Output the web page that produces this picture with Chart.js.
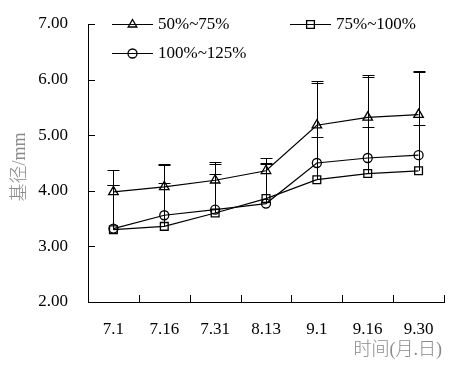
<!DOCTYPE html>
<html>
<head>
<meta charset="utf-8">
<script src="https://cdn.jsdelivr.net/npm/chart.js@4"></script>
<style>
html,body{margin:0;padding:0;background:#fff}
#wrap{width:463px;height:367px;position:relative}
</style>
</head>
<body>
<div id="wrap"><canvas id="c"></canvas></div>
<script>
// dates (month.day)
const labels = ['7.1','7.16','7.31','8.13','9.1','9.16','9.30'];
const seriesNames = ['50%~75%','75%~100%','100%~125%'];

// mean stem diameter, mm
const tri = [3.98, 4.07, 4.19, 4.36, 5.18, 5.32, 5.37];
const sq  = [3.30, 3.36, 3.60, 3.86, 4.20, 4.31, 4.36];
const cir = [3.32, 3.56, 3.66, 3.77, 4.50, 4.59, 4.64];

// upper end of each error bar
const triHi = [4.37, 4.49, 4.52, 4.59, 5.98, 6.09, 6.16];
const sqHi  = [4.10, 4.14, 4.30, 4.49, 4.97, 5.14, 5.19];
const cirHi = [4.10, 4.47, 4.48, 4.50, 5.93, 6.04, 6.13];

const yTicks = [2, 3, 4, 5, 6, 7];
const xTitle = '时间(月.日)';
const yTitle = '基径/mm';

const FONT = "'Liberation Serif', 'Times New Roman', serif";
const CJK = "'Liberation Serif', 'Noto Sans CJK SC', serif";

function ds(label, data, hi, style, r){
  return {
    label, data, hi,
    borderColor:'#000', borderWidth:1.2,
    pointStyle:style, pointRadius:r, pointHoverRadius:r,
    pointBorderColor:'#000', pointBorderWidth:1.3,
    pointBackgroundColor:'rgba(0,0,0,0)',
    tension:0, fill:false
  };
}

function marker(ctx, style, x, y, r){
  ctx.beginPath();
  if(style==='triangle'){
    ctx.moveTo(x, y - r);
    ctx.lineTo(x + r*Math.sin(2*Math.PI/3), y - r*Math.cos(2*Math.PI/3));
    ctx.lineTo(x + r*Math.sin(4*Math.PI/3), y - r*Math.cos(4*Math.PI/3));
    ctx.closePath();
  } else if(style==='rect'){
    const s = Math.SQRT1_2*r;
    ctx.rect(x - s, y - s, 2*s, 2*s);
  } else {
    ctx.arc(x, y, r, 0, Math.PI*2);
  }
  ctx.stroke();
}

const errorBars = {
  id:'errorBars',
  afterDatasetsDraw(chart){
    const ctx = chart.ctx, ys = chart.scales.y;
    ctx.save();
    ctx.strokeStyle = '#000';
    ctx.lineWidth = 1;
    chart.data.datasets.forEach((d, i) => {
      const meta = chart.getDatasetMeta(i);
      meta.data.forEach((pt, j) => {
        const x = Math.round(pt.x) + 0.5;
        const y0 = ys.getPixelForValue(d.data[j]);
        const y1 = Math.round(ys.getPixelForValue(d.hi[j])) + 0.5;
        ctx.beginPath();
        ctx.moveTo(x, y0); ctx.lineTo(x, y1);
        ctx.moveTo(x - 6, y1); ctx.lineTo(x + 6, y1);
        ctx.stroke();
      });
    });
    ctx.restore();
  }
};

const decor = {
  id:'decor',
  afterDraw(chart){
    const ctx = chart.ctx, a = chart.chartArea;
    const xs = chart.scales.x, ys = chart.scales.y;
    ctx.save();
    ctx.strokeStyle = '#000';
    ctx.lineWidth = 1;
    // inward ticks
    ctx.beginPath();
    yTicks.forEach(v => {
      const y = Math.round(ys.getPixelForValue(v)) + 0.5;
      ctx.moveTo(a.left, y); ctx.lineTo(a.left + 7, y);
    });
    const n = labels.length;
    for(let i = 0; i < n; i++){
      let x = i < n - 1 ? (xs.getPixelForValue(i) + xs.getPixelForValue(i + 1)) / 2 : a.right;
      x = Math.round(x) + 0.5;
      ctx.moveTo(x, a.bottom); ctx.lineTo(x, a.bottom - 7);
    }
    ctx.stroke();

    // legend
    const leg = [
      {x:112, y:24, style:'triangle', r:5},
      {x:290, y:24, style:'rect', r:5.5},
      {x:112, y:53, style:'circle', r:4.5}
    ];
    ctx.font = '17px ' + FONT;
    ctx.fillStyle = '#000';
    ctx.textBaseline = 'middle';
    ctx.textAlign = 'left';
    leg.forEach((l, i) => {
      const y = l.y + 0.5;
      ctx.lineWidth = 1.2;
      ctx.beginPath(); ctx.moveTo(l.x, y); ctx.lineTo(l.x + 41, y); ctx.stroke();
      ctx.lineWidth = 1.3;
      marker(ctx, l.style, l.x + 20.5, y, l.r);
      ctx.fillText(seriesNames[i], l.x + 46, l.y + 1);
    });

    // axis titles
    ctx.fillStyle = '#8a8a8a';
    ctx.font = '300 18px ' + CJK;
    ctx.textAlign = 'right';
    ctx.textBaseline = 'middle';
    ctx.fillText(xTitle, 442, 350);
    ctx.translate(20, 167);
    ctx.rotate(-Math.PI / 2);
    ctx.textAlign = 'center';
    ctx.fillText(yTitle, 0, 0);
    ctx.restore();
  }
};

new Chart(document.getElementById('c'), {
  type:'line',
  data:{
    labels,
    datasets:[
      ds(seriesNames[0], tri, triHi, 'triangle', 5.5),
      ds(seriesNames[1], sq, sqHi, 'rect', 5.5),
      ds(seriesNames[2], cir, cirHi, 'circle', 4.5)
    ]
  },
  options:{
    responsive:true,
    maintainAspectRatio:false,
    devicePixelRatio:1,
    animation:false,
    layout:{padding:{top:24, right:19, left:0, bottom:0}},
    plugins:{legend:{display:false}, tooltip:{enabled:false}},
    scales:{
      x:{
        type:'category', offset:true,
        grid:{display:false, drawTicks:false},
        border:{display:true, color:'#000', width:1},
        ticks:{color:'#000', font:{family:FONT, size:17}, padding:17, maxRotation:0, autoSkip:false},
        afterFit(s){ s.height = 65; s.paddingLeft = 0; s.paddingRight = 0; }
      },
      y:{
        min:2, max:7,
        grid:{display:false, drawTicks:false},
        border:{display:true, color:'#000', width:1},
        ticks:{stepSize:1, color:'#000', font:{family:FONT, size:17}, padding:20,
          callback:v => v.toFixed(2)},
        afterFit(s){ s.width = 88; s.paddingTop = 0; s.paddingBottom = 0; }
      }
    }
  },
  plugins:[errorBars, decor]
});
</script>
</body>
</html>
